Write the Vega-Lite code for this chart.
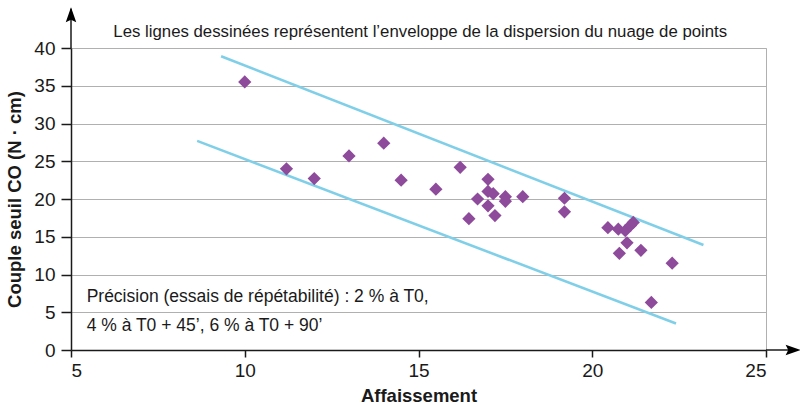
{
  "$schema": "https://vega.github.io/schema/vega-lite/v6.json",
  "width": 695,
  "height": 302,
  "autosize": {"type": "none"},
  "padding": {"left": 71, "top": 48, "right": 34, "bottom": 55},
  "background": "white",
  "config": {
    "font": "Liberation Sans",
    "view": {"stroke": "#b0b0b0", "strokeWidth": 1},
    "axis": {
      "labelFont": "Liberation Sans",
      "titleFont": "Liberation Sans",
      "labelColor": "#1a1a1a",
      "titleColor": "#1a1a1a",
      "domainColor": "#1a1a1a",
      "domainWidth": 1.5,
      "tickColor": "#1a1a1a",
      "tickWidth": 1.5,
      "labelFontSize": 19,
      "titleFontSize": 18.5,
      "titleFontWeight": "bold",
      "labelOverlap": false
    },
    "axisX": {"tickCount": 5, "grid": false, "tickSize": 7, "labelPadding": 4, "titlePadding": 6},
    "axisY": {"tickCount": 9, "grid": true, "gridColor": "#b0b0b0", "gridWidth": 1, "tickSize": 10, "labelPadding": 6, "titlePadding": 9}
  },
  "datasets": {
    "points": [
      {"aff": 10.0, "couple": 35.5},
      {"aff": 11.2, "couple": 24.0},
      {"aff": 12.0, "couple": 22.7},
      {"aff": 13.0, "couple": 25.7},
      {"aff": 14.0, "couple": 27.4},
      {"aff": 14.5, "couple": 22.5},
      {"aff": 15.5, "couple": 21.3},
      {"aff": 16.2, "couple": 24.2},
      {"aff": 16.45, "couple": 17.4},
      {"aff": 16.7, "couple": 20.0},
      {"aff": 17.0, "couple": 22.6},
      {"aff": 17.0, "couple": 21.0},
      {"aff": 17.15, "couple": 20.7},
      {"aff": 17.0, "couple": 19.1},
      {"aff": 17.2, "couple": 17.8},
      {"aff": 17.5, "couple": 20.3},
      {"aff": 17.5, "couple": 19.7},
      {"aff": 18.0, "couple": 20.3},
      {"aff": 19.2, "couple": 20.1},
      {"aff": 19.2, "couple": 18.3},
      {"aff": 20.45, "couple": 16.2},
      {"aff": 20.75, "couple": 16.0},
      {"aff": 20.95, "couple": 15.8},
      {"aff": 21.1, "couple": 16.5},
      {"aff": 21.18, "couple": 16.9},
      {"aff": 21.0, "couple": 14.2},
      {"aff": 20.78, "couple": 12.8},
      {"aff": 21.4, "couple": 13.2},
      {"aff": 22.3, "couple": 11.5},
      {"aff": 21.7, "couple": 6.3}
    ],
    "envelope": [
      {"aff": 9.32, "couple": 38.9, "ligne": "haut"},
      {"aff": 23.2, "couple": 13.9, "ligne": "haut"},
      {"aff": 8.63, "couple": 27.7, "ligne": "bas"},
      {"aff": 22.41, "couple": 3.5, "ligne": "bas"}
    ]
  },
  "layer": [
    {
      "data": {"name": "envelope"},
      "mark": {"type": "line", "color": "#80cfe8", "strokeWidth": 2.6},
      "encoding": {
        "x": {
          "field": "aff",
          "type": "quantitative",
          "scale": {"domain": [5, 25], "nice": false, "zero": false},
          "axis": {"title": "Affaissement", "values": [5, 10, 15, 20, 25]}
        },
        "y": {
          "field": "couple",
          "type": "quantitative",
          "scale": {"domain": [0, 40], "nice": false},
          "axis": {"title": "Couple seuil CO (N · cm)", "values": [0, 5, 10, 15, 20, 25, 30, 35, 40]}
        },
        "detail": {"field": "ligne"}
      }
    },
    {
      "data": {"name": "points"},
      "mark": {"type": "point", "shape": "diamond", "filled": true, "color": "#8e4a9b", "opacity": 1, "size": 175},
      "encoding": {
        "x": {"field": "aff", "type": "quantitative", "axis": {"title": "Affaissement", "values": [5, 10, 15, 20, 25]}},
        "y": {"field": "couple", "type": "quantitative", "axis": {"title": "Couple seuil CO (N · cm)", "values": [0, 5, 10, 15, 20, 25, 30, 35, 40]}}
      }
    },
    {
      "data": {"values": [{}]},
      "mark": {"type": "rule", "color": "#1a1a1a", "strokeWidth": 1.5, "clip": false},
      "encoding": {
        "x": {"datum": 5},
        "y": {"datum": 40},
        "y2": {"datum": 45.2}
      }
    },
    {
      "data": {"values": [{}]},
      "mark": {"type": "rule", "color": "#1a1a1a", "strokeWidth": 1.5, "clip": false},
      "encoding": {
        "x": {"datum": 25},
        "x2": {"datum": 25.9},
        "y": {"datum": 0}
      }
    },
    {
      "data": {"values": [{}]},
      "mark": {"type": "point", "shape": "M0,-1L0.7,1L0,0.65L-0.7,1Z", "filled": true, "color": "#000000", "opacity": 1, "size": 225, "clip": false},
      "encoding": {
        "x": {"datum": 5},
        "y": {"datum": 44.4}
      }
    },
    {
      "data": {"values": [{}]},
      "mark": {"type": "point", "shape": "M1,0L-1,0.7L-0.65,0L-1,-0.7Z", "filled": true, "color": "#000000", "opacity": 1, "size": 225, "clip": false},
      "encoding": {
        "x": {"datum": 25.78},
        "y": {"datum": 0}
      }
    },
    {
      "data": {"values": [{}]},
      "mark": {"type": "text", "align": "center", "baseline": "middle", "fontSize": 16.8, "font": "Liberation Sans", "color": "#1a1a1a"},
      "encoding": {
        "x": {"datum": 15.05},
        "y": {"datum": 42.1},
        "text": {"value": "Les lignes dessinées représentent l’enveloppe de la dispersion du nuage de points"}
      }
    },
    {
      "data": {"values": [{}]},
      "mark": {"type": "text", "align": "left", "baseline": "middle", "fontSize": 17.5, "font": "Liberation Sans", "color": "#1a1a1a", "lineHeight": 29},
      "encoding": {
        "x": {"datum": 5.45},
        "y": {"datum": 7.0},
        "text": {"value": ["Précision (essais de répétabilité) : 2 % à T0,", "4 % à T0 + 45’, 6 % à T0 + 90’"]}
      }
    }
  ]
}
